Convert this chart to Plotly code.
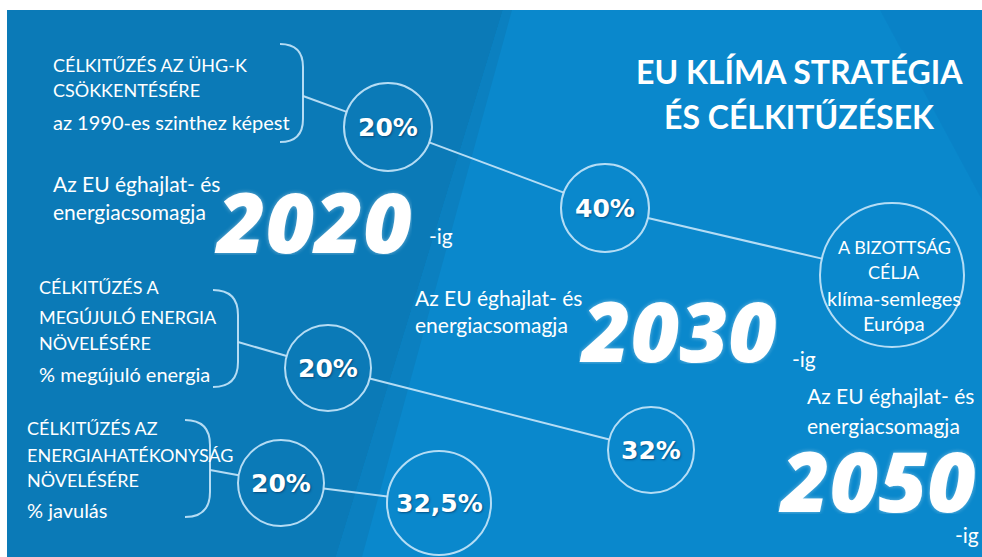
import math

import plotly.graph_objects as go

# --- content -------------------------------------------------------------
title_lines = ["EU KLÍMA STRATÉGIA", "ÉS CÉLKITŰZÉSEK"]
ghg_lines = ["CÉLKITŰZÉS AZ ÜHG-K", "CSÖKKENTÉSÉRE", "az 1990-es szinthez képest"]
res_lines = ["CÉLKITŰZÉS A", "MEGÚJULÓ ENERGIA", "NÖVELÉSÉRE", "% megújuló energia"]
eff_lines = ["CÉLKITŰZÉS AZ", "ENERGIAHATÉKONYSÁG", "NÖVELÉSÉRE", "% javulás"]
package_lines = ["Az EU éghajlat- és", "energiacsomagja"]
years = ["2020", "2030", "2050"]
ghg_targets = ["20%", "40%"]
res_targets = ["20%", "32%"]
eff_targets = ["20%", "32,5%"]
goal_lines = ["A BIZOTTSÁG", "CÉLJA", "klíma-semleges", "Európa"]

# --- layout (pixel space of the 982x557 canvas) ---------------------------
W, H = 982, 557
DARK = "#0b7ab7"
LIGHT = "#0a88cc"
STROKE = "rgba(195,228,248,0.92)"
BODY_FONT = "Lato"

ghg_text_pos = (51, [65, 90, 122])
res_text_pos = (37, [287, 317, 343, 374])
eff_text_pos = (25, [428, 455, 480, 510])
package_pos = [(51, [183, 211]), (413, [297, 324]), (805, [395, 425])]
year_pos = [(212, 220), (577, 329), (776, 479)]
ig_pos = [(427, 235), (790, 358), (953, 534)]

# brackets: (x top/bottom end, y top, x right, y bottom, connector y)
brackets = [(280, 44, 303, 142, 96), (213, 290, 238, 387, 342), (185, 420, 210, 517, 470)]
# circles: (cx, cy, r)
ghg_nodes = [(388, 127, 44), (605, 208, 44)]
res_nodes = [(328, 368, 43), (651, 450, 43)]
eff_nodes = [(281, 483, 43), (439, 503, 52)]
goal_node = (892, 275, 72)

fig = go.Figure()


def edge_segment(p, q):
    # shorten segment p->q so it stops at the circle outlines
    (x0, y0, r0), (x1, y1, r1) = p, q
    dx, dy = x1 - x0, y1 - y0
    d = math.hypot(dx, dy)
    ux, uy = dx / d, dy / d
    return [x0 + ux * r0, x1 - ux * r1], [y0 + uy * r0, y1 - uy * r1]


def add_line(xs, ys):
    fig.add_trace(
        go.Scatter(x=xs, y=ys, mode="lines", line=dict(color=STROKE, width=2),
                   hoverinfo="skip", showlegend=False)
    )


chains = [
    (brackets[0], ghg_nodes + [goal_node]),
    (brackets[1], res_nodes),
    (brackets[2], eff_nodes),
]
for (bx, by0, bxr, by1, cy), nodes in chains:
    xs, ys = edge_segment((bxr, cy, 0), nodes[0])
    add_line(xs, ys)
    for a, b in zip(nodes[:-1], nodes[1:]):
        xs, ys = edge_segment(a, b)
        add_line(xs, ys)

shapes = [
    dict(type="rect", x0=7, x1=W, y0=10, y1=H, fillcolor=LIGHT, line_width=0, layer="below"),
    dict(type="path", path="M 7 10 L 503 10 L 336 557 L 7 557 Z", fillcolor=DARK,
         line_width=0, layer="below"),
    dict(type="path", path="M 503 10 L 512 10 L 362 557 L 336 557 Z",
         fillcolor="rgba(11,128,192,1)", line_width=0, layer="below"),
    dict(type="path", path="M 880 10 L 982 10 L 982 200 Z",
         fillcolor="rgba(8,120,190,0.35)", line_width=0, layer="below"),
]
for bx, by0, bxr, by1, cy in brackets:
    r = bxr - bx
    shapes.append(dict(
        type="path",
        path=f"M {bx} {by0} Q {bxr} {by0} {bxr} {by0 + r} L {bxr} {by1 - r} Q {bxr} {by1} {bx} {by1}",
        line=dict(color=STROKE, width=2),
    ))
for cx, cy, r in ghg_nodes + res_nodes + eff_nodes + [goal_node]:
    shapes.append(dict(type="circle", x0=cx - r, x1=cx + r, y0=cy - r, y1=cy + r,
                       line=dict(color=STROKE, width=2)))

annotations = []


def text(x, y, s, size, anchor="left", weight="normal", family=BODY_FONT, style="normal",
         shadow="none", box_h=None):
    annotations.append(dict(
        x=x, y=y, text=s, showarrow=False, xanchor=anchor, yanchor="middle",
        height=box_h,
        font=dict(family=family, size=size, color="white", weight=weight, style=style,
                  shadow=shadow),
    ))


for i, line in enumerate(title_lines):
    text(799, [71, 116][i], line, 32, anchor="center", weight="bold")

for (x0, ys), lines in [(ghg_text_pos, ghg_lines), (res_text_pos, res_lines), (eff_text_pos, eff_lines)]:
    for k, (y, line) in enumerate(zip(ys, lines)):
        # last line of each block is the lower-case unit note, set a little larger
        text(x0, y, line, 20 if k == len(lines) - 1 else 18)

for (x0, ys) in package_pos:
    for y, line in zip(ys, package_lines):
        text(x0, y, line, 21)

for (x, y), year in zip(year_pos, years):
    text(x, y, year, 84, weight=800, family="Open Sans", style="italic",
         shadow="0px 0px 4px rgba(255,255,255,0.45)", box_h=70)

for (x, y) in ig_pos:
    text(x, y, "-ig", 21)

pct_shadow = "1px 1px 2px rgba(0,40,80,0.55)"
for nodes, labels in [(ghg_nodes, ghg_targets), (res_nodes, res_targets), (eff_nodes, eff_targets)]:
    for (cx, cy, r), lab in zip(nodes, labels):
        text(cx, cy, lab, 25, anchor="center", weight="bold", family="DejaVu Sans",
             shadow=pct_shadow)

gx, gy, gr = goal_node
for k, (y, line) in enumerate(zip([247, 272, 298, 323], goal_lines)):
    text(gx + 2, y, line, 18 if k < 2 else 20, anchor="center")

fig.update_layout(
    width=W,
    height=H,
    margin=dict(l=0, r=0, t=0, b=0),
    paper_bgcolor="white",
    plot_bgcolor="white",
    xaxis=dict(range=[0, W], visible=False, fixedrange=True),
    yaxis=dict(range=[H, 0], visible=False, fixedrange=True),
    shapes=shapes,
    annotations=annotations,
    showlegend=False,
)

fig.write_html("out.html", config={"displayModeBar": False},
               post_script="document.body.style.margin='0';")
